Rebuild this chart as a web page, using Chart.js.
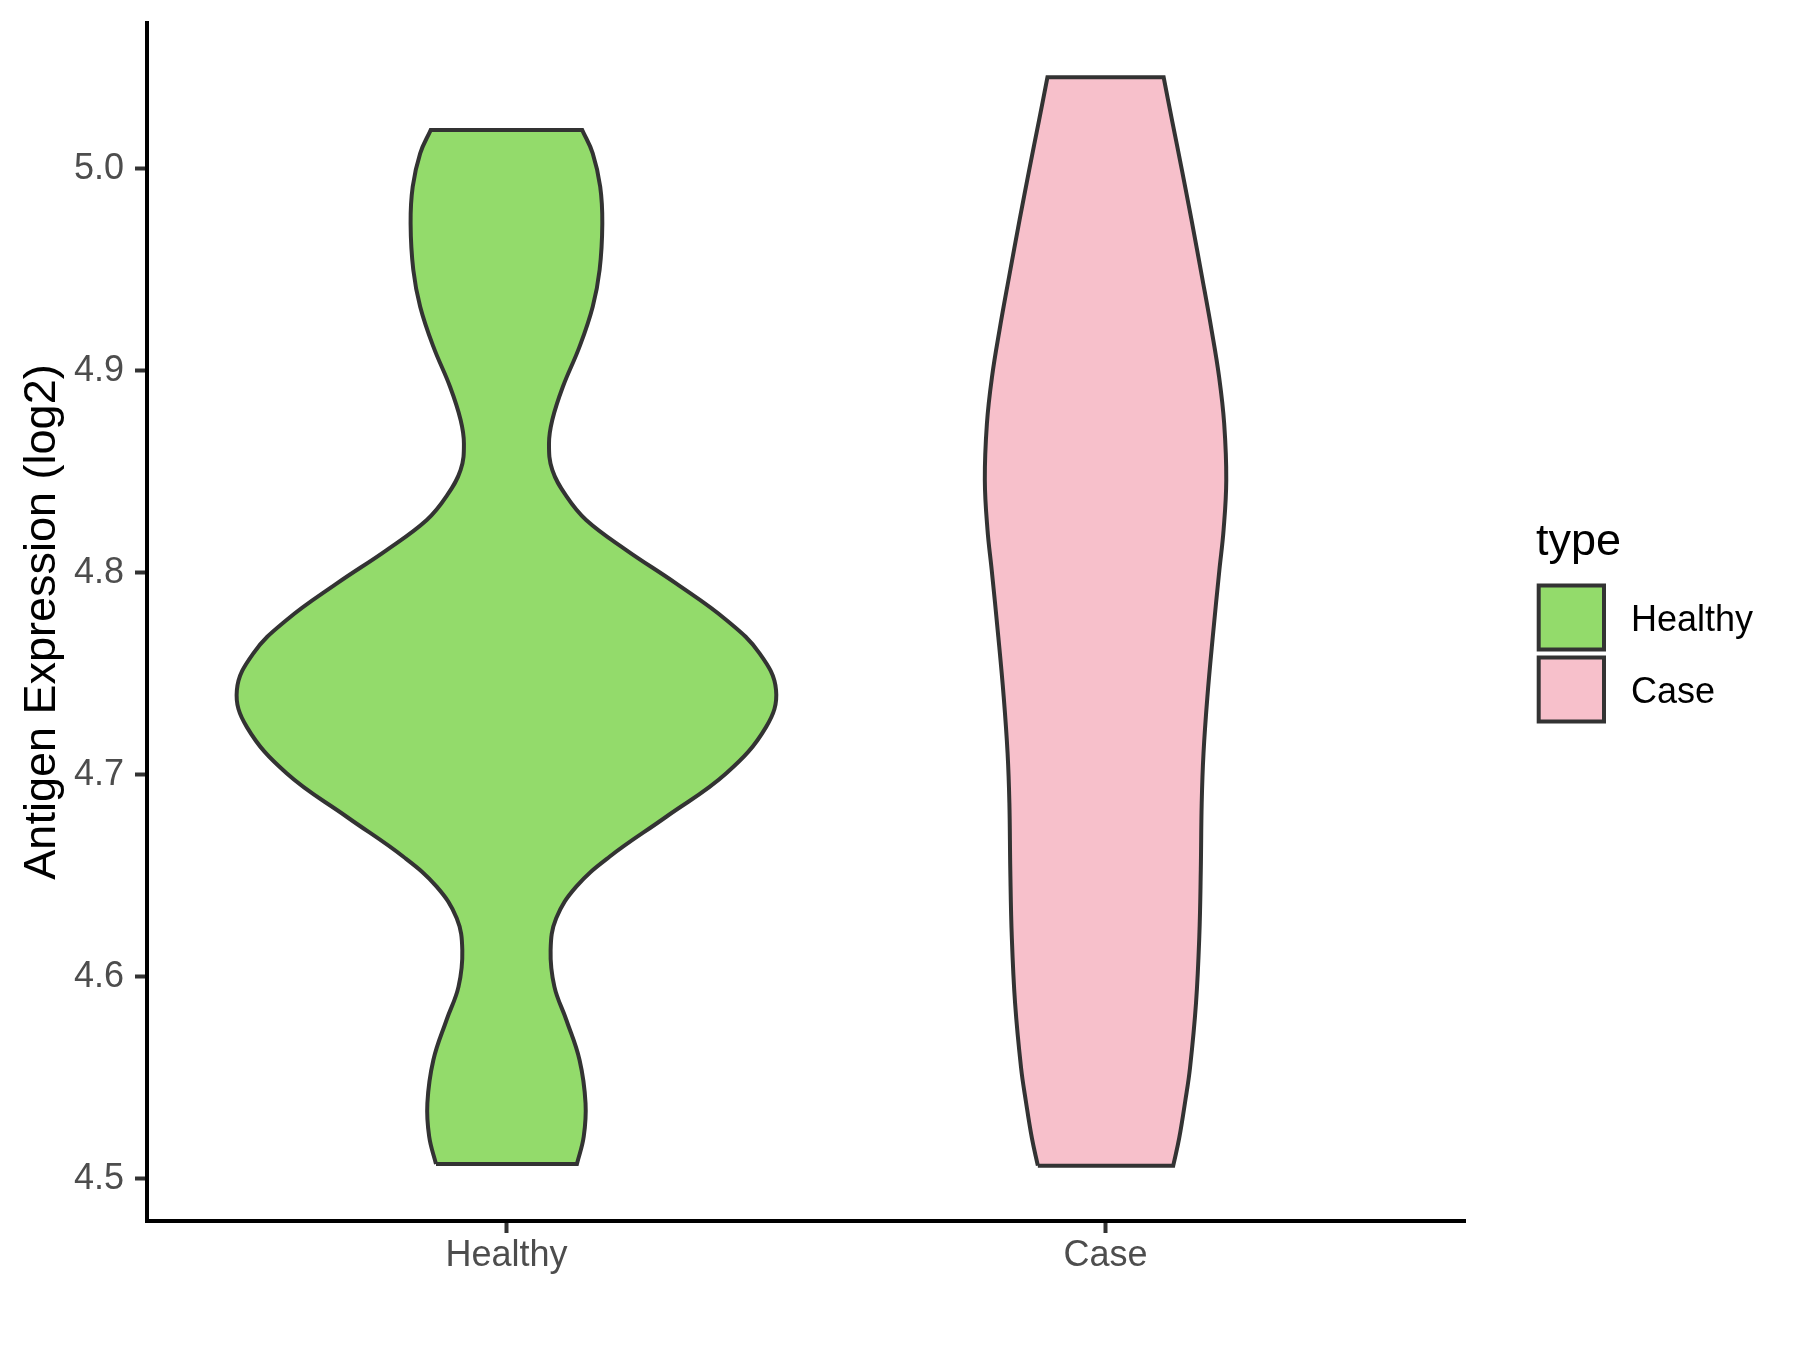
<!DOCTYPE html>
<html>
<head>
<meta charset="utf-8">
<script src="https://cdn.jsdelivr.net/npm/chart.js"></script>
<style>
  html, body { margin: 0; padding: 0; background: #fff; }
  #wrap { width: 1800px; height: 1350px; }
</style>
</head>
<body>
<div id="wrap"><canvas id="violinChart" width="1800" height="1350"></canvas></div>
<script>
const categories = ["Healthy", "Case"];
const fillColors = ["#93DB6B", "#F7C0CB"];

// outline of each violin: value (bottom to top) and half width in x units
const healthyValues = [4.5074, 4.521, 4.5375, 4.5589, 4.5787, 4.5952, 4.6133, 4.629, 4.6447, 4.6595,
  4.6793, 4.7008, 4.7238, 4.742, 4.7602, 4.7767, 4.7948, 4.8113, 4.8262, 4.838,
  4.851, 4.864, 4.8757, 4.892, 4.912, 4.9318, 4.95, 4.973, 4.9911, 5.0077, 5.0192];
const healthyWidths = [0.1176, 0.129, 0.132, 0.122, 0.100, 0.080, 0.0737, 0.083, 0.1165, 0.172,
  0.2667, 0.367, 0.4335, 0.450, 0.4225, 0.367, 0.283, 0.200, 0.133, 0.100,
  0.0765, 0.071, 0.0765, 0.094, 0.122, 0.144, 0.1555, 0.160, 0.1565, 0.144, 0.1265];

const caseValues = [4.5066, 4.5203, 4.5385, 4.555, 4.587, 4.62, 4.653, 4.686, 4.7107, 4.7387,
  4.7684, 4.8014, 4.8212, 4.846, 4.874, 4.8971, 4.9202, 4.9466, 4.9747, 4.9994, 5.024, 5.0453];
const caseWidths = [0.113, 0.123, 0.133, 0.141, 0.151, 0.1565, 0.159, 0.1605, 0.1635, 0.170,
  0.179, 0.190, 0.197, 0.2015, 0.198, 0.1895, 0.177, 0.161, 0.1435, 0.1275, 0.111, 0.097];

const yTicks = [4.5, 4.6, 4.7, 4.8, 4.9, 5.0];

const FONT = '"Liberation Sans", Arial, sans-serif';

/*
 build closed outline (corners doubled so they stay sharp)
*/
function outline(pos, values, widths) {
  const n = values.length;
  const pts = [];
  for (let i = 0; i < n; i++) pts.push({ x: pos - widths[i], y: values[i] });
  pts.push({ x: pos - widths[n - 1], y: values[n - 1] });
  pts.push({ x: pos + widths[n - 1], y: values[n - 1] });
  for (let i = n - 1; i >= 0; i--) pts.push({ x: pos + widths[i], y: values[i] });
  pts.push({ x: pos + widths[0], y: values[0] });
  pts.push({ x: pos - widths[0], y: values[0] });
  return pts;
}

const violins = [
  outline(1, healthyValues, healthyWidths),
  outline(2, caseValues, caseWidths)
];

/*
 LEGEND
*/
const typeLegend = {
  id: "typeLegend",
  afterDraw(chart) {
    const ctx = chart.ctx;
    ctx.save();
    ctx.fillStyle = "#000";
    ctx.textBaseline = "alphabetic";
    ctx.textAlign = "left";
    ctx.font = `45px ${FONT}`;
    ctx.fillText("type", 1536, 555);
    categories.forEach((name, i) => {
      const top = 585.5 + i * 72;
      ctx.fillStyle = fillColors[i];
      ctx.fillRect(1538.7, top, 65.3, 64);
      ctx.strokeStyle = "#333333";
      ctx.lineWidth = 4;
      ctx.strokeRect(1538.7, top, 65.3, 64);
      ctx.fillStyle = "#000";
      ctx.font = `36px ${FONT}`;
      ctx.fillText(name, 1631, top + 45.2);
    });
    ctx.restore();
  }
};

new Chart(document.getElementById("violinChart"), {
  type: "scatter",
  data: {
    datasets: categories.map((name, i) => ({
      label: name,
      data: violins[i],
      showLine: true,
      fill: "shape",
      tension: 0.4,
      pointRadius: 0,
      pointHoverRadius: 0,
      borderColor: "#333333",
      borderWidth: 4,
      backgroundColor: fillColors[i]
    }))
  },
  options: {
    responsive: false,
    animation: false,
    devicePixelRatio: 1,
    layout: { padding: { left: 0, right: 335, top: 23, bottom: 0 } },
    plugins: {
      legend: { display: false },
      tooltip: { enabled: false }
    },
    scales: {
      x: {
        type: "linear",
        min: 0.4,
        max: 2.6,
        afterFit: scale => {
          scale.height = 129;
          scale.paddingLeft = 0;
          scale.paddingRight = 0;
        },
        afterBuildTicks: scale => {
          scale.ticks = categories.map((c, i) => ({ value: i + 1 }));
        },
        ticks: {
          callback: value => categories[Math.round(value) - 1],
          color: "#4D4D4D",
          font: { family: FONT, size: 36 },
          padding: 1,
          maxRotation: 0
        },
        grid: {
          drawOnChartArea: false,
          drawTicks: true,
          tickLength: 12,
          tickWidth: 4,
          tickColor: "#333333"
        },
        border: { display: true, color: "#000", width: 4 }
      },
      y: {
        min: 4.4792,
        max: 5.0722,
        afterFit: scale => {
          scale.width = 147;
          scale.paddingTop = 0;
          scale.paddingBottom = 0;
        },
        afterBuildTicks: scale => {
          scale.ticks = yTicks.map(v => ({ value: v }));
        },
        ticks: {
          callback: value => value.toFixed(1),
          color: "#4D4D4D",
          font: { family: FONT, size: 36 },
          padding: 11
        },
        grid: {
          drawOnChartArea: false,
          drawTicks: true,
          tickLength: 12,
          tickWidth: 4,
          tickColor: "#333333"
        },
        border: { display: true, color: "#000", width: 4 },
        title: {
          display: true,
          text: "Antigen Expression (log2)",
          color: "#000",
          font: { family: FONT, size: 45 },
          padding: { top: 16, bottom: 0 }
        }
      }
    }
  },
  plugins: [typeLegend]
});
</script>
</body>
</html>
